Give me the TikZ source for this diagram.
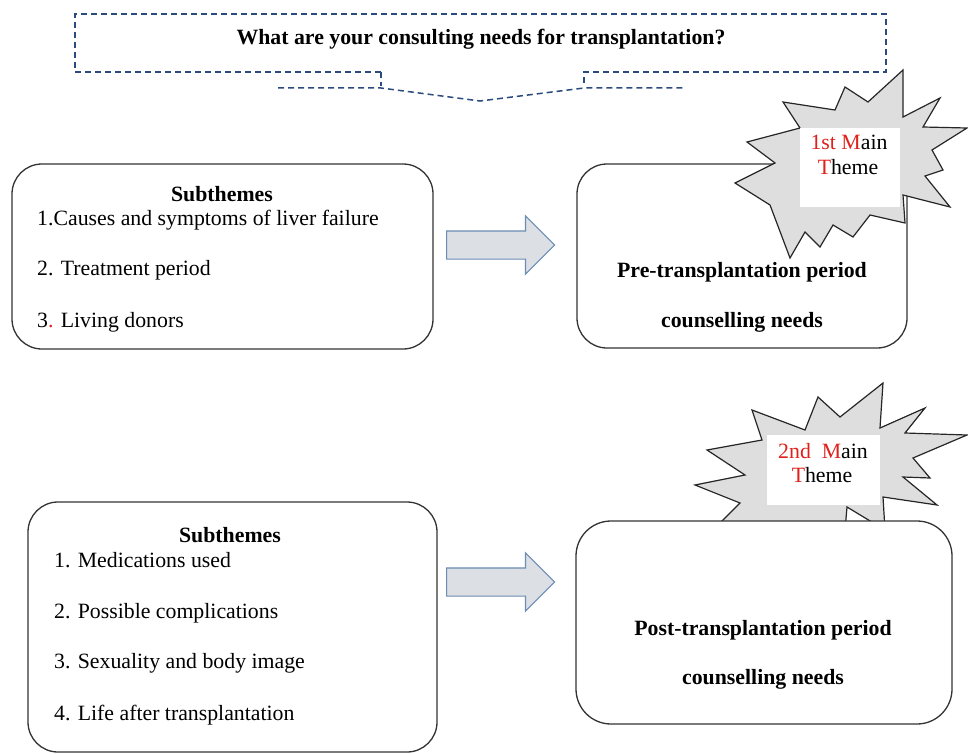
\documentclass[tikz,border=0pt]{standalone}
\usepackage{fontspec}
\setmainfont{Liberation Serif}
\usetikzlibrary{shapes.arrows}
\definecolor{navy}{HTML}{2B4A7E}
\definecolor{redt}{HTML}{E0201B}
\definecolor{starfill}{HTML}{DEDEDE}
\definecolor{arrowfill}{HTML}{DCDFE4}
\definecolor{arrowdraw}{HTML}{6B8DB5}
\begin{document}
\begin{tikzpicture}[x=1pt,y=-1pt, font=\fontsize{21.8}{26}\selectfont,
  box/.style={draw=black!80, line width=1.3pt, rounded corners=30pt, fill=white, inner sep=0pt},
  txt/.style={inner sep=0pt, anchor=base},
  hd/.style={inner sep=0pt, anchor=base, font=\fontsize{21.8}{26}\selectfont\bfseries},
  item/.style={inner sep=0pt, anchor=base west},
  blockarrow/.style={single arrow, draw=arrowdraw, fill=arrowfill, line width=1.2pt,
    minimum height=108pt, inner xsep=0pt, inner ysep=13.5pt, single arrow head extend=15pt},
  burst/.style={draw=black!85, line width=1.2pt, fill=starfill, line join=miter},
  callout/.style={draw=navy, line width=1.5pt, dash pattern=on 6pt off 4pt}]

\useasboundingbox (0,0) rectangle (968,754);

% top dashed callout
\draw[callout] (381,72) -- (75,72) -- (75,14) -- (886,14) -- (886,72) -- (584,72) -- (584,86);
\draw[callout] (381,72) -- (381,86);
\draw[callout] (278,88) -- (381,88) -- (480,101) -- (584,88) -- (684,88);
\node[hd] (title) at (481,45) {What are your consulting needs for transplantation?};

% first row
\node[box, minimum width=421pt, minimum height=185pt] (sub1) at (222.5,256.5) {};
\node[hd] (sub1h) at (222,201) {Subthemes};
\node[item] (sub1a) at (37,225) {1.Causes and symptoms of liver failure};
\node[item] (sub1b) at (37,275) {2. Treatment period};
\node[item] (sub1c) at (37,327) {3{\color{redt}.} Living donors};

\node[blockarrow, anchor=tail] (arr1) at (446,245) {};

\node[box, minimum width=330pt, minimum height=184pt] (pre) at (742,256) {};
\node[hd] (pre1) at (742,277) {Pre-transplantation period};
\node[hd] (pre2) at (742,327) {counselling needs};

\filldraw[burst] (903,70) -- (903,117) -- (940,98) -- (923,127) -- (967,128) -- (932,150)
  -- (943,170) -- (925,176) -- (950,207) -- (903,195) -- (905,223) -- (870,215) -- (853,237)
  -- (833,225) -- (820,247) -- (805,232) -- (790,258) -- (770,205) -- (735,183) -- (775,163)
  -- (747,142) -- (800,128) -- (783,102) -- (835,110) -- (845,87) -- (868,102) -- cycle;
\fill[white] (800,128) rectangle (900,207);
\node[txt] (th1a) at (849,150) {{\color{redt}1st M}ain};
\node[txt] (th1b) at (848,175) {{\color{redt}T}heme};

% second row
\node[box, minimum width=409pt, minimum height=250pt] (sub2) at (232.5,627) {};
\node[hd] (sub2h) at (230,542) {Subthemes};
\node[item] (sub2a) at (54,567) {1. Medications used};
\node[item] (sub2b) at (54,618) {2. Possible complications};
\node[item] (sub2c) at (54,668) {3. Sexuality and body image};
\node[item] (sub2d) at (54,720) {4. Life after transplantation};

\node[blockarrow, anchor=tail] (arr2) at (446,582) {};

\filldraw[burst] (883,383) -- (880,428) -- (925,408) -- (905,433) -- (967,435) -- (913,458)
  -- (930,478) -- (903,477) -- (937,505) -- (883,497) -- (885,530) -- (847,507) -- (845,530)
  -- (713,530) -- (740,503) -- (695,485) -- (745,475) -- (707,450) -- (762,440) -- (752,410)
  -- (805,430) -- (818,397) -- (840,417) -- cycle;
\fill[white] (767,435) rectangle (880,505);
\node[txt] (th2a) at (823,458) {{\color{redt}2nd}\ \ {\color{redt}M}ain};
\node[txt] (th2b) at (822,482) {{\color{redt}T}heme};

\node[box, minimum width=376pt, minimum height=203pt, rounded corners=35pt] (post) at (764,622.5) {};
\node[hd] (post1) at (763,635) {Post-transplantation period};
\node[hd] (post2) at (763,684) {counselling needs};
\end{tikzpicture}
\end{document}
